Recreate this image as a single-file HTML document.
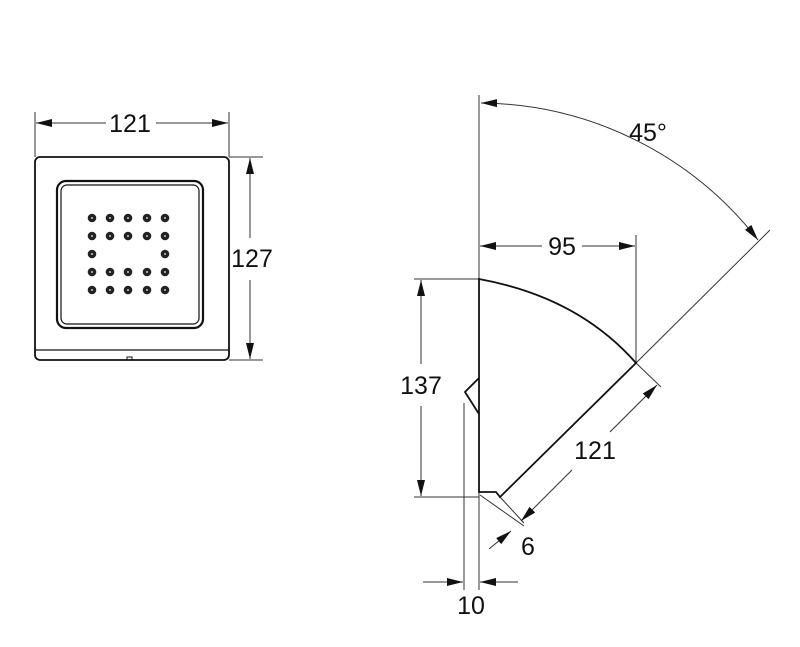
<!DOCTYPE html>
<html><head><style>html,body{margin:0;padding:0;background:#fff}svg{display:block}text{font-family:"Liberation Sans",sans-serif;font-size:25px;fill:#111}</style></head><body>
<svg width="800" height="647" viewBox="0 0 800 647" xmlns="http://www.w3.org/2000/svg">
<defs>
<marker id="a" viewBox="0 0 16 8" refX="16" refY="4" markerWidth="16" markerHeight="8" markerUnits="userSpaceOnUse" orient="auto-start-reverse"><path d="M0,0 L16,4 L0,8 z" fill="#111"/></marker>
</defs>
<g stroke="#333" stroke-width="1" fill="none">
<line x1="35" y1="112" x2="35" y2="157"/>
<line x1="229" y1="112" x2="229" y2="157"/>
<line x1="36" y1="123" x2="106" y2="123" marker-start="url(#a)"/>
<line x1="156" y1="123" x2="228" y2="123" marker-end="url(#a)"/>
<line x1="229" y1="157" x2="263" y2="157"/>
<line x1="229" y1="360" x2="263" y2="360"/>
<line x1="250" y1="158" x2="250" y2="238" marker-start="url(#a)"/>
<line x1="250" y1="280" x2="250" y2="359" marker-end="url(#a)"/>
</g>
<g stroke="#111" fill="none">
<rect x="35" y="157" width="194" height="203" rx="5" stroke-width="1.8"/>
<line x1="35" y1="350" x2="229" y2="350" stroke-width="1.2"/>
<path d="M127,360 v-3 h5 v3" stroke-width="1"/>
<rect x="57" y="181" width="146" height="147" rx="9" stroke-width="2.2"/>
<rect x="61" y="185" width="138" height="139" rx="6" stroke-width="1.2"/>
</g>
<g fill="#fff" stroke="#222" stroke-width="3.4">
<g id="r"><circle cx="92" cy="218" r="2.6"/><circle cx="110" cy="218" r="2.6"/><circle cx="128" cy="218" r="2.6"/><circle cx="147" cy="218" r="2.6"/><circle cx="165" cy="218" r="2.6"/></g>
<use href="#r" y="18"/><use href="#r" y="54"/><use href="#r" y="72"/>
<circle cx="92" cy="254" r="2.6"/><circle cx="165" cy="254" r="2.6"/>
</g>
<text x="130" y="132" text-anchor="middle">121</text>
<text x="252" y="267" text-anchor="middle">127</text>
<g stroke="#333" stroke-width="1" fill="none">
<line x1="479" y1="95" x2="479" y2="590"/>
<line x1="464" y1="403" x2="464" y2="590"/>
<path d="M481,103 A355,355 0 0 1 758,240" marker-start="url(#a)" marker-end="url(#a)"/>
<line x1="636" y1="363" x2="770" y2="230"/>
<line x1="636" y1="235" x2="636" y2="363"/>
<line x1="480" y1="246" x2="542" y2="246" marker-start="url(#a)"/>
<line x1="582" y1="246" x2="635" y2="246" marker-end="url(#a)"/>
<line x1="414" y1="279" x2="479" y2="279"/>
<line x1="414" y1="497" x2="479" y2="497"/>
<line x1="421" y1="280" x2="421" y2="364" marker-start="url(#a)"/>
<line x1="421" y1="406" x2="421" y2="496" marker-end="url(#a)"/>
<line x1="636" y1="363" x2="661" y2="387"/>
<line x1="480" y1="495" x2="524" y2="526"/>
<line x1="500" y1="497" x2="524" y2="523"/>
<line x1="610" y1="432" x2="657" y2="385" marker-end="url(#a)"/>
<line x1="572" y1="470" x2="521" y2="521" marker-end="url(#a)"/>
<line x1="489" y1="549" x2="511" y2="531" marker-end="url(#a)"/>
<line x1="423" y1="582" x2="463" y2="582" marker-end="url(#a)"/>
<line x1="518" y1="582" x2="480" y2="582" marker-end="url(#a)"/>
</g>
<g stroke="#111" stroke-width="1.8" fill="none">
<path d="M479,279 Q578,297 636,363 L500,497 L496,492 L479,492 Z"/>
<path d="M479,378 L465,392 L479,414"/>
</g>
<text x="648" y="141" text-anchor="middle">45°</text>
<text x="562" y="255" text-anchor="middle">95</text>
<text x="421" y="394" text-anchor="middle">137</text>
<text x="595" y="459" text-anchor="middle">121</text>
<text x="528" y="555" text-anchor="middle">6</text>
<text x="471" y="614" text-anchor="middle">10</text>
</svg>
</body></html>
